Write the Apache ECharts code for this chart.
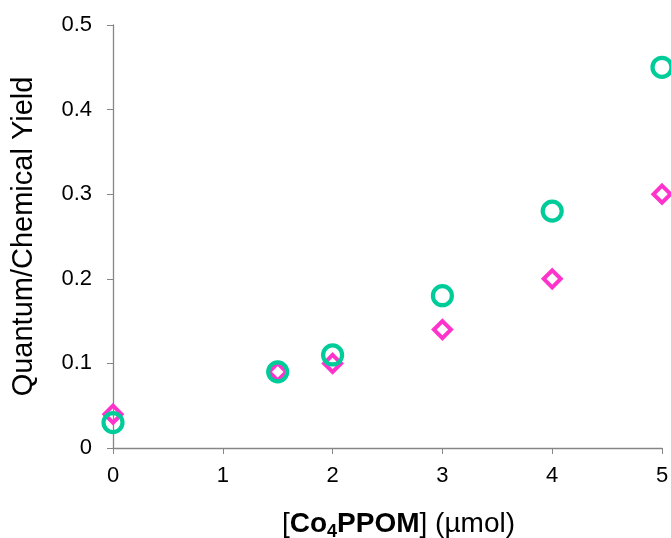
<!DOCTYPE html>
<html><head><meta charset="utf-8">
<script src="https://cdn.jsdelivr.net/npm/echarts@6/dist/echarts.min.js"></script>
<style>html,body{margin:0;padding:0;background:#fff}#c{width:671px;height:538px}</style>
</head><body><div id="c"></div>
<script>
var xValues = [0, 1.5, 2, 3, 4, 5];
var circleValues = [0.03, 0.09, 0.11, 0.18, 0.28, 0.45];
var diamondValues = [0.04, 0.09, 0.10, 0.14, 0.20, 0.30];
var xTicks = [0, 1, 2, 3, 4, 5];
var yTicks = [0, 0.1, 0.2, 0.3, 0.4, 0.5];

function pairs(xs, ys){ return xs.map(function(x,i){return [x, ys[i]];}); }
var font = '"Liberation Sans", Arial, sans-serif';
var chart = echarts.init(document.getElementById('c'), null, {renderer:'canvas'});
chart.setOption({
  animation: false,
  grid: {left: 113, right: 9, top: 25, bottom: 90, containLabel: false, outerBoundsMode: 'none'},
  xAxis: {
    type: 'value', min: 0, max: 5, interval: 1,
    axisLine: {show: true, lineStyle: {color: '#868686', width: 1.3}},
    axisTick: {show: true, length: 6, lineStyle: {color: '#868686'}},
    splitLine: {show: false},
    axisLabel: {color: '#000', fontFamily: font, fontSize: 22, margin: 17,
      formatter: function(v){ return xTicks.indexOf(v) >= 0 ? String(v) : ''; }},
    name: '{n|[}{b|Co}{s|4}{b|PPOM}{n|] (µmol)}',
    nameLocation: 'middle', nameGap: 59,
    nameTextStyle: {
      padding: [0, 0, 0, 22],
      rich: {
        n: {fontFamily: font, fontSize: 28, color: '#000'},
        b: {fontFamily: font, fontSize: 28, fontWeight: 'bold', color: '#000'},
        s: {fontFamily: font, fontSize: 18, fontWeight: 'bold', color: '#000', padding: [16, 0, 0, 0]}
      }
    }
  },
  yAxis: {
    type: 'value', min: 0, max: 0.5, interval: 0.1,
    axisLine: {show: true, lineStyle: {color: '#868686', width: 1.3}},
    axisTick: {show: true, length: 6, lineStyle: {color: '#868686'}},
    splitLine: {show: false},
    axisLabel: {color: '#000', fontFamily: font, fontSize: 22, margin: 21,
      formatter: function(v){ var r = Math.round(v*10)/10; return yTicks.indexOf(r) >= 0 ? (r === 0 ? '0' : String(r)) : ''; }},
    name: 'Quantum/Chemical Yield',
    nameLocation: 'middle', nameGap: 75,
    nameTextStyle: {fontFamily: font, fontSize: 29, color: '#000'}
  },
  series: [
    {
      type: 'scatter', data: pairs(xValues, diamondValues),
      symbol: 'diamond', symbolSize: 17,
      itemStyle: {color: 'rgba(255,255,255,0)', borderColor: '#FF33CC', borderWidth: 4, opacity: 1}
    },
    {
      type: 'scatter', data: pairs(xValues, circleValues),
      symbol: 'circle', symbolSize: 19,
      itemStyle: {color: 'rgba(255,255,255,0)', borderColor: '#00CC99', borderWidth: 4.2, opacity: 1}
    }
  ]
});
</script></body></html>
